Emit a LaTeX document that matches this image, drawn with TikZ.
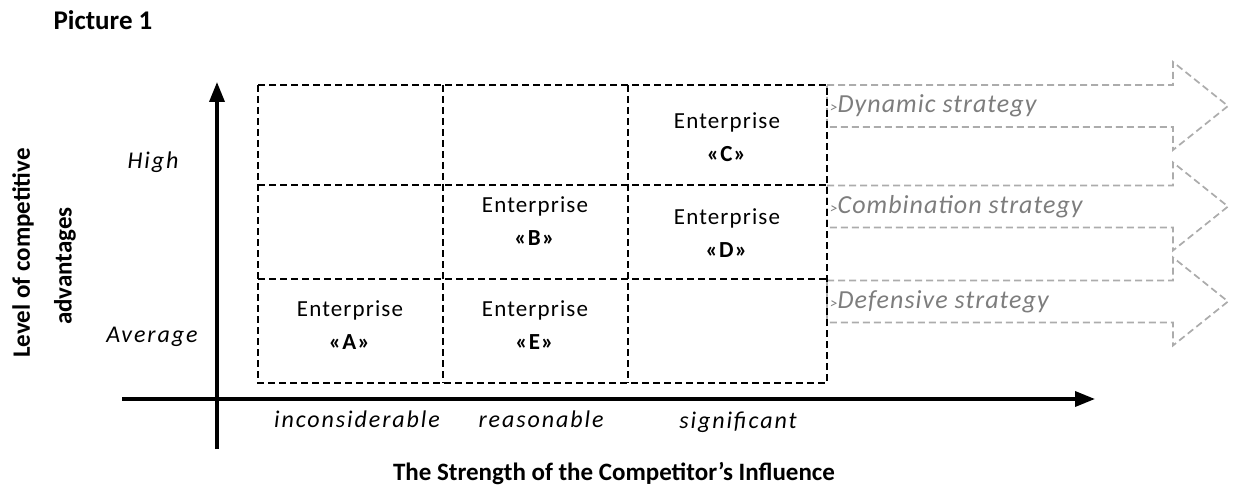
\documentclass[tikz,border=0pt]{standalone}
\usepackage{fontspec}
\setmainfont{Carlito}
\newfontfamily\cellfont{Carlito}[LetterSpace=5]
\newfontfamily\itfont{Carlito}[LetterSpace=8]
\newfontfamily\stfont{Carlito}[LetterSpace=4]
\usetikzlibrary{arrows.meta}
\definecolor{strgray}{RGB}{125,125,125}
\definecolor{arrgray}{RGB}{172,172,172}
\begin{document}
\begin{tikzpicture}[x=1pt,y=-1pt,
  gridline/.style={line width=1.7pt, dash pattern=on 7pt off 4pt},
  axisline/.style={line width=3.5pt, -{Triangle[length=20pt,width=15pt]}},
  stratarrow/.style={draw=arrgray, line width=1.7pt, dash pattern=on 7pt off 4pt, miter limit=20},
  celltext/.style={align=center, font=\cellfont\fontsize{23}{33}\selectfont},
  lbl/.style={font=\itfont\fontsize{24}{28}\selectfont\itshape},
  strat/.style={anchor=west, text=strgray, inner sep=0pt, font=\stfont\fontsize{26}{28}\selectfont\itshape},
  bold/.style={font=\fontsize{25}{28}\selectfont\bfseries}
]
\useasboundingbox (0,0) rectangle (1233,497);

% strategy arrows
\foreach \c in {106,206.5,301.5}{
  \draw[stratarrow] (827,\c-21) -- (1173,\c-21) -- (1173,\c-44) -- (1228,\c)
    -- (1173,\c+44) -- (1173,\c+21) -- (827,\c+21) -- cycle;
}

% grid
\draw[gridline] (258,85) rectangle (827,383);
\draw[gridline] (443,85) -- (443,383);
\draw[gridline] (628,85) -- (628,383);
\draw[gridline] (258,185) -- (827,185);
\draw[gridline] (258,279) -- (827,279);

% axes
\coordinate (ybot) at (217,449);
\coordinate (ytop) at (217,82);
\coordinate (xleft) at (122,399);
\coordinate (xright) at (1095,399);
\draw[axisline] (ybot) -- (ytop);
\draw[axisline] (xleft) -- (xright);

% cell texts
\node[celltext] (cC) at (727,137) {Enterprise\\\textbf{«C»}};
\node[celltext] (cB) at (535,221) {Enterprise\\\textbf{«B»}};
\node[celltext] (cD) at (727,233) {Enterprise\\\textbf{«D»}};
\node[celltext] (cA) at (350,325) {Enterprise\\\textbf{«A»}};
\node[celltext] (cE) at (535,325) {Enterprise\\\textbf{«E»}};

% strategy labels
\node[strat] (s1) at (830,106) {{\fontsize{15}{15}\selectfont >}Dynamic strategy};
\node[strat] (s2) at (830,207) {{\fontsize{15}{15}\selectfont >}Combination strategy};
\node[strat] (s3) at (830,302) {{\fontsize{15}{15}\selectfont >}Defensive strategy};

% axis labels
\node[lbl] (high) at (153,162) {High};
\node[lbl] (avg) at (152,337) {Average};
\node[lbl] (l1) at (357,419) {inconsiderable};
\node[lbl] (l2) at (541,419) {reasonable};
\node[lbl] (l3) at (738,422) {significant};

\node[font=\fontsize{27}{30}\selectfont\bfseries] (title) at (103,20) {Picture 1};
\node[bold] (xlab) at (614,474) {The Strength of the Competitor's Influence};
\node[bold, rotate=90] (ylab1) at (23,253) {Level of competitive};
\node[bold, rotate=90] (ylab2) at (65,266) {advantages};
\end{tikzpicture}
\end{document}
